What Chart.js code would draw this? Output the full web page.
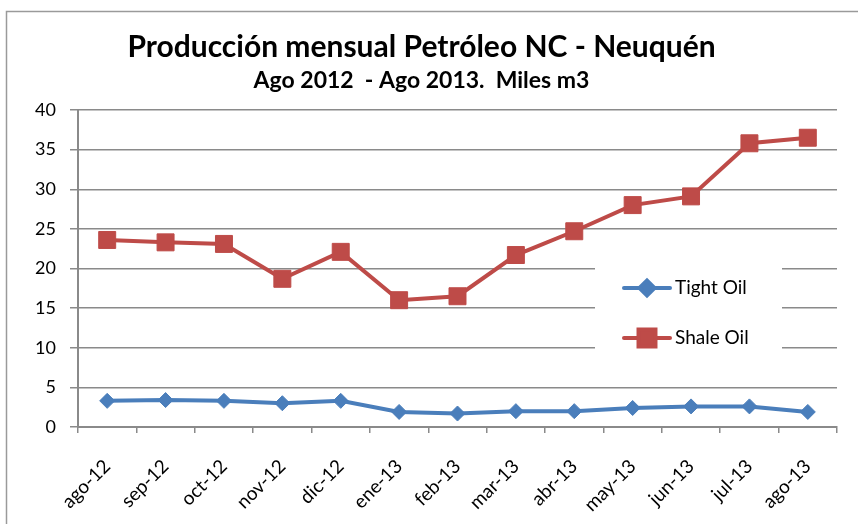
<!DOCTYPE html>
<html>
<head>
<meta charset="utf-8">
<script src="https://cdn.jsdelivr.net/npm/chart.js@4"></script>
<style>
  html, body { margin: 0; padding: 0; background: #fff; }
  #wrap { width: 858px; height: 524px; }
</style>
</head>
<body>
<div id="wrap"><canvas id="chart" width="858" height="524"></canvas></div>
<script>
/* ==================== 数据 ==================== */
const months = ['ago-12', 'sep-12', 'oct-12', 'nov-12', 'dic-12', 'ene-13', 'feb-13',
                'mar-13', 'abr-13', 'may-13', 'jun-13', 'jul-13', 'ago-13'];
const tightOil = [3.3, 3.4, 3.3, 3.0, 3.3, 1.9, 1.7, 2.0, 2.0, 2.4, 2.6, 2.6, 1.9];
const shaleOil = [23.6, 23.3, 23.1, 18.7, 22.1, 16.0, 16.5, 21.7, 24.7, 28.0, 29.1, 35.8, 36.5];
const yTicks = [0, 5, 10, 15, 20, 25, 30, 35, 40];

const FONT = 'Lato, "Liberation Sans", sans-serif';
const BLUE = '#4a7ebb';
const RED = '#be4b48';
const GRID = '#8a8a8a';

/* 外框：只有左边和上边可见 */
const framePlugin = {
  id: 'frame',
  beforeDraw(chart) {
    const c = chart.ctx;
    c.save();
    c.fillStyle = '#fff';
    c.fillRect(0, 0, chart.width, chart.height);
    c.strokeStyle = '#9a9a9a';
    c.lineWidth = 1.5;
    c.strokeRect(6.5, 11.5, 1000, 1000);
    c.restore();
  }
};

/* 图例画在绘图区内部（白底盖住网格线） */
const innerLegend = {
  id: 'innerLegend',
  beforeDatasetsDraw(chart) {
    const c = chart.ctx;
    c.save();
    c.fillStyle = '#fff';
    c.fillRect(595, 250, 187, 110);
    const rows = [288, 338];
    chart.data.datasets.forEach((ds, i) => {
      const y = rows[i];
      c.strokeStyle = ds.borderColor;
      c.lineWidth = 4;
      c.lineCap = 'round';
      c.beginPath();
      c.moveTo(624, y);
      c.lineTo(670, y);
      c.stroke();
      c.fillStyle = ds.pointBackgroundColor;
      c.strokeStyle = ds.pointBorderColor;
      Chart.helpers.drawPoint(c, {
        pointStyle: ds.pointStyle,
        radius: ds.pointRadius,
        borderWidth: 1,
        rotation: 0
      }, 647, y);
      c.fillStyle = '#000';
      c.font = '19px ' + FONT;
      c.textBaseline = 'middle';
      c.textAlign = 'left';
      c.fillText(ds.label, 675, y);
    });
    c.restore();
  }
};

new Chart(document.getElementById('chart'), {
  type: 'line',
  data: {
    labels: months,
    datasets: [{
      label: 'Tight Oil',
      data: tightOil,
      borderColor: BLUE,
      backgroundColor: BLUE,
      pointBackgroundColor: BLUE,
      pointBorderColor: BLUE,
      borderWidth: 4,
      pointStyle: 'rectRot',
      pointRadius: 7.5,
      pointBorderWidth: 1,
      tension: 0
    }, {
      label: 'Shale Oil',
      data: shaleOil,
      borderColor: RED,
      backgroundColor: RED,
      pointBackgroundColor: RED,
      pointBorderColor: RED,
      borderWidth: 4,
      pointStyle: 'rect',
      pointRadius: 12,
      pointBorderWidth: 1,
      tension: 0
    }]
  },
  options: {
    responsive: false,
    animation: false,
    devicePixelRatio: 1,
    layout: { padding: { left: 6, right: 21, top: 11, bottom: 0 } },
    plugins: {
      legend: { display: false },
      tooltip: { enabled: false },
      title: {
        display: true,
        text: 'Producción mensual Petróleo NC - Neuquén',
        color: '#000',
        font: { family: FONT, size: 30, weight: 'bold', lineHeight: 1.2 },
        padding: { top: 18, bottom: 2 }
      },
      subtitle: {
        display: true,
        text: 'Ago 2012  - Ago 2013.  Miles m3',
        color: '#000',
        font: { family: FONT, size: 23, weight: 'bold', lineHeight: 1.2 },
        padding: { top: 0, bottom: 15.4 }
      }
    },
    scales: {
      x: {
        type: 'category',
        offset: true,
        grid: { display: true, drawOnChartArea: false, offset: true, tickLength: 6, color: GRID, lineWidth: 1.5 },
        border: { color: GRID, width: 2 },
        ticks: {
          color: '#000',
          font: { family: FONT, size: 19 },
          minRotation: 45,
          maxRotation: 45,
          padding: 22,
          autoSkip: false
        },
        afterFit(scale) { scale.height = 97; }
      },
      y: {
        min: 0,
        max: 40,
        afterBuildTicks(scale) { scale.ticks = yTicks.map(v => ({ value: v })); },
        grid: { color: GRID, lineWidth: 1.5, tickLength: 8 },
        border: { color: GRID, width: 2 },
        ticks: {
          color: '#000',
          font: { family: FONT, size: 18 },
          padding: 14
        },
        afterFit(scale) { scale.width = 72; }
      }
    }
  },
  plugins: [framePlugin, innerLegend]
});
</script>
</body>
</html>
